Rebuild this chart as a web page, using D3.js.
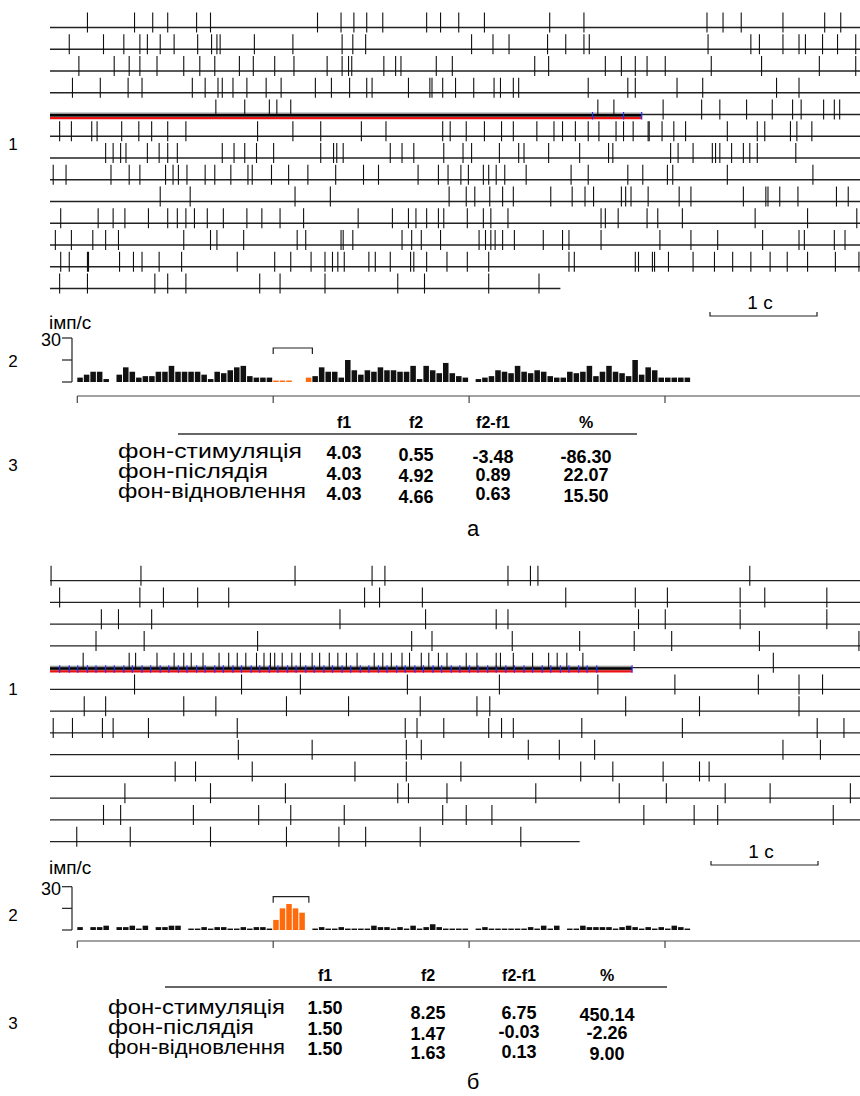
<!DOCTYPE html>
<html><head><meta charset="utf-8">
<script src="https://cdn.jsdelivr.net/npm/d3@7"></script>
<style>body{margin:0;background:#fff}svg{display:block}</style>
</head><body>
<svg id="c" width="860" height="1096"></svg>
<script>
// ---------- DATA ----------
const rowDuration = 7.57; // s per raster row
// Panel а: spike times (s) per sweep
const spikesA = [
 [0.35,0.79,0.96,1.10,1.37,1.50,2.50,2.72,2.84,2.96,3.11,3.52,3.65,3.82,4.06,4.67,4.99,6.14,6.29,6.46,6.85,7.24,7.39],
 [0.18,0.50,0.69,0.84,0.91,1.03,1.16,1.38,1.51,1.56,1.59,1.91,2.27,2.73,2.83,2.95,3.94,4.14,4.29,4.65,4.82,4.99,5.04,6.15,6.55,6.63,6.85,7.00,7.06,7.22,7.36,7.53],
 [0.27,0.60,0.74,0.84,1.00,1.25,1.40,1.54,1.77,1.90,2.10,2.28,2.59,2.73,2.79,2.82,3.12,3.23,3.28,3.61,3.76,4.53,4.66,5.19,5.34,5.47,5.58,5.75,6.18,6.65,7.19,7.53],
 [0.21,0.47,0.73,0.86,1.33,1.45,1.57,1.61,1.71,1.84,2.02,2.16,2.48,2.63,2.80,2.96,3.01,3.35,3.55,3.57,3.67,3.79,3.96,4.15,4.21,4.33,4.38,5.03,5.40,5.47,5.86,6.10,6.79,7.00],
 [1.55,1.82,2.05,2.12,2.25,5.12,5.27,5.73,6.09,6.26,6.51,6.75,6.94,7.02,7.23,7.33,7.38],
 [0.09,0.20,0.39,0.44,0.67,0.83,0.95,1.10,1.27,1.94,2.27,2.53,2.91,3.14,3.67,3.74,3.89,4.06,4.22,4.33,4.55,4.71,4.79,4.91,5.03,5.13,5.29,5.36,5.45,5.59,5.60,5.72,5.83,5.94,6.33,6.61,6.68,6.92,6.98,7.12],
 [0.52,0.59,0.66,0.71,0.91,1.02,1.10,1.19,1.61,1.72,1.82,1.93,2.09,2.53,2.65,2.68,2.74,3.18,3.29,3.40,3.68,3.86,3.94,4.20,4.38,4.43,4.66,4.95,5.22,5.26,5.80,5.87,6.01,6.19,6.22,6.26,6.37,6.48,6.54,6.61,6.97],
 [0.03,0.15,0.57,0.74,0.84,1.08,1.15,1.20,1.28,1.45,1.54,1.69,1.85,1.89,2.07,2.23,2.41,2.67,2.93,3.07,3.44,3.63,3.72,3.84,3.91,4.05,4.10,4.17,4.25,4.45,4.87,5.03,5.40,5.54,5.77,5.82,6.33,7.13],
 [1.03,1.31,2.29,2.62,3.73,3.89,3.97,4.11,4.23,4.33,4.68,4.88,5.00,5.08,5.34,5.38,5.43,5.59,5.88,5.99,6.48,6.69,6.71,6.82,6.99,7.35,7.46],
 [0.10,0.45,0.59,0.70,0.92,1.10,1.19,1.27,1.35,1.47,1.62,1.84,1.98,2.15,2.37,2.88,3.20,3.35,3.42,3.52,3.63,3.68,3.90,4.05,4.12,4.28,5.15,5.19,5.31,5.58,5.68,5.91,6.59,7.08,7.54],
 [0.05,0.20,0.40,0.52,0.64,1.25,1.50,1.56,1.81,2.31,2.39,2.72,2.74,2.83,3.29,3.38,3.47,3.65,4.01,4.07,4.12,4.16,4.23,4.34,4.61,4.79,4.85,5.15,5.70,5.99,6.24,6.66,7.00,7.05,7.33,7.43],
 [0.10,0.18,0.35,0.36,0.65,0.78,0.86,1.02,1.23,1.75,2.10,2.25,2.44,2.57,2.64,2.69,2.75,2.98,3.04,3.18,3.37,3.40,3.52,3.71,3.90,4.10,4.85,4.90,5.47,5.50,5.63,5.65,5.78,6.01,6.21,6.38,6.55,6.73,6.89,7.08,7.34,7.56],
 [0.09,0.35,0.98,1.10,1.27,1.96,2.15,2.57,3.25,3.50,4.10,4.57]
];
const stimRowA = 4, stimEndA = 5.53, lastEndA = 4.77;
const stimMarksA = [5.07, 5.36, 5.53];

// Panel б
const spikesB = [
 [0.01,0.85,2.29,3.01,3.13,4.28,4.49,4.56,6.54],
 [0.09,0.84,1.06,1.38,1.67,2.94,3.08,3.48,4.82,5.47,5.77,6.45,6.68,7.26],
 [0.48,0.64,0.95,2.71,3.51,4.17,4.28,5.50,5.75,6.45,7.26],
 [0.43,0.88,1.94,3.38,3.57,4.32,4.95,5.46,5.81,6.63,7.56],
 [0.31,0.74,0.80,1.00,1.16,1.25,1.32,1.43,1.58,1.67,1.75,1.83,1.93,2.00,2.06,2.10,2.17,2.26,2.34,2.45,2.52,2.61,2.69,2.77,2.87,3.03,3.11,3.19,3.29,3.36,3.47,3.54,3.63,3.71,3.89,3.99,4.17,4.21,4.33,4.51,4.66,4.74,4.83,4.98,6.76],
 [0.79,1.79,2.34,3.34,4.20,5.12,5.84,6.62,7.00,7.22],
 [0.32,0.52,1.25,1.55,2.21,2.79,3.46,3.99,4.11,5.38,6.07,7.00],
 [0.03,0.21,0.49,0.59,0.92,1.75,3.32,3.43,3.68,4.10,4.22,4.33,4.97,5.91,7.17,7.42],
 [1.76,2.45,3.33,3.47,4.47,4.76,5.09,6.85,7.20],
 [1.17,1.36,1.89,2.85,3.33,3.84,4.96,5.26,5.73,6.07,6.16],
 [0.70,1.50,2.20,3.25,3.35,3.71,4.54,5.32,5.76,6.31,6.73,7.48],
 [0.50,0.66,1.34,1.95,2.25,2.75,3.67,3.89,4.13,5.55,6.02,6.24,7.32],
 [0.25,0.75,1.50,2.21,2.70,2.95,3.46,4.40]
];
const stimRowB = 4, stimEndB = 5.44, lastEndB = 4.95;
const stimMarksB = [0.09,0.18,0.26,0.35,0.43,0.52,0.60,0.69,0.77,0.86,0.94,1.03,1.11,1.20,1.28,1.37,1.45,1.54,1.62,1.71,1.79,1.88,1.96,2.05,2.13,2.22,2.30,2.39,2.47,2.56,2.64,2.73,2.81,2.90,2.98,3.07,3.15,3.24,3.32,3.41,3.49,3.58,3.66,3.75,3.83,3.92,4.00,4.09,4.17,4.26,4.34,4.43,4.51,4.60,4.68,4.77,4.85,4.94,5.02,5.11,5.44];

// Histograms: rate (імп/с) in 1-s bins
const histA = [3,5,7,7,2,0,5,10,7,3,4,4,7,7,11,7,7,7,7,5,2,7,6,8,10,11,4,3,3,3,
  1,1,1,0,0,3,
  4,10,7,7,3,15,8,5,8,
  7,10,8,8,7,7,11,2,11,8,6,13,6,4,3,
  0,
  2,3,4,8,7,6,11,7,6,8,7,4,3,3,7,6,7,11,4,7,11,7,6,4,15,5,10,8,3,3,3,3,3];
const stimBinsA = [30,31,32,33,34,35];
const histB = [2,0,2,2,3,0,2,2,3,1,3,0,2,2,3,3,0,1,1,2,1,2,2,1,1,2,1,2,2,1,
  7,15,18,15,12,
  0,
  1,2,1,1,2,1,1,1,1,3,2,2,1,2,1,3,1,2,4,2,1,1,1,1,
  0,
  1,2,1,1,1,1,1,1,2,1,3,1,3,
  0,
  1,1,3,2,2,2,2,1,2,3,2,1,2,1,2,1,3,2,1];
const stimBinsB = [30,31,32,33,34];
const histTicks = [0, 30, 60, 90];
const histYTicks = [0, 15, 30];

// Tables
const tableHeader = ["f1", "f2", "f2-f1", "%"];
const tableRows = ["фон-стимуляція", "фон-післядія", "фон-відновлення"];
const tableA = [["4.03","0.55","-3.48","-86.30"],["4.03","4.92","0.89","22.07"],["4.03","4.66","0.63","15.50"]];
const tableB = [["1.50","8.25","6.75","450.14"],["1.50","1.47","-0.03","-2.26"],["1.50","1.63","0.13","9.00"]];

// ---------- DRAW ----------
const svg = d3.select("#c");
const sans = "'Liberation Sans', Arial, sans-serif";
const narrow = "'Liberation Sans Narrow', 'Liberation Sans', Arial, sans-serif";
const xR = d3.scaleLinear().domain([0, rowDuration]).range([50, 860]);
const rowStep = 21.75;

function raster(rows, y0, stimRow, stimEnd, marks, lastEnd) {
  const g = svg.append("g");
  rows.forEach((r, i) => {
    const y = y0 + i * rowStep;
    const end = i === rows.length - 1 ? lastEnd : rowDuration;
    if (i === stimRow) {
      g.append("rect").attr("x", xR(0)).attr("y", y - 2).attr("width", xR(stimEnd) - xR(0)).attr("height", 5).attr("fill", "#9a9a9a");
      g.append("line").attr("x1", xR(0)).attr("x2", xR(stimEnd)).attr("y1", y + 0.8).attr("y2", y + 0.8).attr("stroke", "#000").attr("stroke-width", 2.4);
      g.append("line").attr("x1", xR(0)).attr("x2", xR(stimEnd)).attr("y1", y + 3.6).attr("y2", y + 3.6).attr("stroke", "#ee1111").attr("stroke-width", 2.2);
      g.append("line").attr("x1", xR(stimEnd)).attr("x2", xR(end)).attr("y1", y).attr("y2", y).attr("stroke", "#222").attr("stroke-width", 1.3);
      g.selectAll(null).data(marks).join("line")
        .attr("x1", d => xR(d)).attr("x2", d => xR(d)).attr("y1", y - 2.5).attr("y2", y + 5)
        .attr("stroke", "#2a2aff").attr("stroke-width", 1.2);
    } else {
      g.append("line").attr("x1", xR(0)).attr("x2", xR(end)).attr("y1", y).attr("y2", y).attr("stroke", "#222").attr("stroke-width", 1.3);
    }
    g.selectAll(null).data(r).join("line")
      .attr("x1", d => xR(d)).attr("x2", d => xR(d))
      .attr("y1", y - 15)
      .attr("y2", d => (i === stimRow && d < stimEnd) ? y : y + 5)
      .attr("stroke", "#111").attr("stroke-width", 1.1);
  });
}

const xH = d3.scaleLinear().domain([0, 90]).range([77.3, 665]);
function histogram(vals, stimBins, base, top, axisY, labelY) {
  const yH = d3.scaleLinear().domain([0, 30]).range([base, top]);
  const g = svg.append("g");
  const bw = xH(1) - xH(0);
  g.selectAll("rect").data(vals).join("rect")
    .attr("x", (d, i) => xH(i)).attr("width", bw - 1)
    .attr("y", d => yH(d)).attr("height", d => yH(0) - yH(d))
    .attr("fill", (d, i) => stimBins.includes(i) ? "#ff6a0a" : "#111");
  g.append("line").attr("x1", 72).attr("x2", 72).attr("y1", yH(30)).attr("y2", yH(0)).attr("stroke", "#222").attr("stroke-width", 1.2);
  g.selectAll(null).data(histYTicks).join("line")
    .attr("x1", 62).attr("x2", 72).attr("y1", d => yH(d)).attr("y2", d => yH(d)).attr("stroke", "#222").attr("stroke-width", 1.2);
  g.append("text").attr("x", 61).attr("y", yH(30) + 8).attr("text-anchor", "end").attr("font-family", sans).attr("font-size", 18).text("30");
  g.append("text").attr("x", 49).attr("y", labelY).attr("font-family", sans).attr("font-size", 19).text("імп/с");
  const s0 = xH(stimBins[0]), s1 = xH(stimBins[0]) + (stimBins.length) * bw + (stimBins.length === 5 ? 3 : 0);
  const by = yH(30) + 10;
  g.append("path").attr("d", `M${s0},${by + 6}V${by}H${s1}V${by + 6}`).attr("fill", "none").attr("stroke", "#222").attr("stroke-width", 1.2);
  g.append("line").attr("x1", xH(0)).attr("x2", 860).attr("y1", axisY).attr("y2", axisY).attr("stroke", "#444").attr("stroke-width", 1.2);
  g.selectAll(null).data(histTicks).join("line")
    .attr("x1", d => xH(d)).attr("x2", d => xH(d)).attr("y1", axisY).attr("y2", axisY + 7).attr("stroke", "#444").attr("stroke-width", 1.2);
}

function table(vals, opt) {
  const g = svg.append("g");
  g.selectAll(null).data(tableHeader).join("text")
    .attr("x", (d, i) => opt.cols[i]).attr("y", opt.headY).attr("text-anchor", "middle")
    .attr("font-family", narrow).attr("font-weight", "bold").attr("font-size", 16).text(d => d);
  g.append("line").attr("x1", opt.line[0]).attr("x2", opt.line[1]).attr("y1", opt.lineY).attr("y2", opt.lineY).attr("stroke", "#333").attr("stroke-width", 1.3);
  tableRows.forEach((lab, r) => {
    g.append("text").attr("x", opt.labX).attr("y", opt.rowY[r]).attr("font-family", sans).attr("font-size", 20)
      .attr("textLength", opt.labW[r]).attr("lengthAdjust", "spacingAndGlyphs").text(lab);
    g.selectAll(null).data(vals[r]).join("text")
      .attr("x", (d, i) => opt.cols[i]).attr("y", (d, i) => opt.rowY[r] + opt.dy[r][i]).attr("text-anchor", "middle")
      .attr("font-family", narrow).attr("font-weight", "bold").attr("font-size", 18).text(d => d);
  });
}

function scaleBar(x0, y, label) {
  svg.append("path").attr("d", `M${x0},${y - 4}V${y}H${x0 + 107}V${y - 4}`).attr("fill", "none").attr("stroke", "#222").attr("stroke-width", 1.2);
  svg.append("text").attr("x", x0 + 50).attr("y", y - 7).attr("text-anchor", "middle").attr("font-family", sans).attr("font-size", 19).text(label);
}
function label(x, y, t, size) {
  svg.append("text").attr("x", x).attr("y", y).attr("text-anchor", "middle").attr("font-family", sans).attr("font-size", size || 17).text(t);
}

// Panel а
raster(spikesA, 27.5, stimRowA, stimEndA, stimMarksA, lastEndA);
scaleBar(710, 316, "1 с");
histogram(histA, stimBinsA, 382, 338, 396, 329);
table(tableA, {cols: [344, 416, 493, 586], headY: 428, line: [178, 637], lineY: 434, labX: 118,
  labW: [184, 150, 188],
  rowY: [458, 478, 498], dy: [[1, 3, 5, 5], [2, 4, 3, 3], [2, 5, 2, 4]]});
label(13, 150, "1"); label(13, 367, "2"); label(13, 471, "3");
label(473, 536, "а", 22);

// Panel б
raster(spikesB, 580.7, stimRowB, stimEndB, stimMarksB, lastEndB);
scaleBar(711, 865, "1 с");
histogram(histB, stimBinsB, 930, 886.7, 941, 874);
table(tableB, {cols: [325, 428, 519, 607], headY: 981, line: [165, 667], lineY: 987, labX: 108,
  labW: [177, 146, 177],
  rowY: [1014, 1034, 1054], dy: [[0, 5, 5, 7], [1, 6, 4, 5], [1, 5, 4, 6]]});
label(13, 695, "1"); label(13, 921, "2"); label(13, 1029, "3");
label(473, 1089, "б", 22);
</script>
</body></html>
